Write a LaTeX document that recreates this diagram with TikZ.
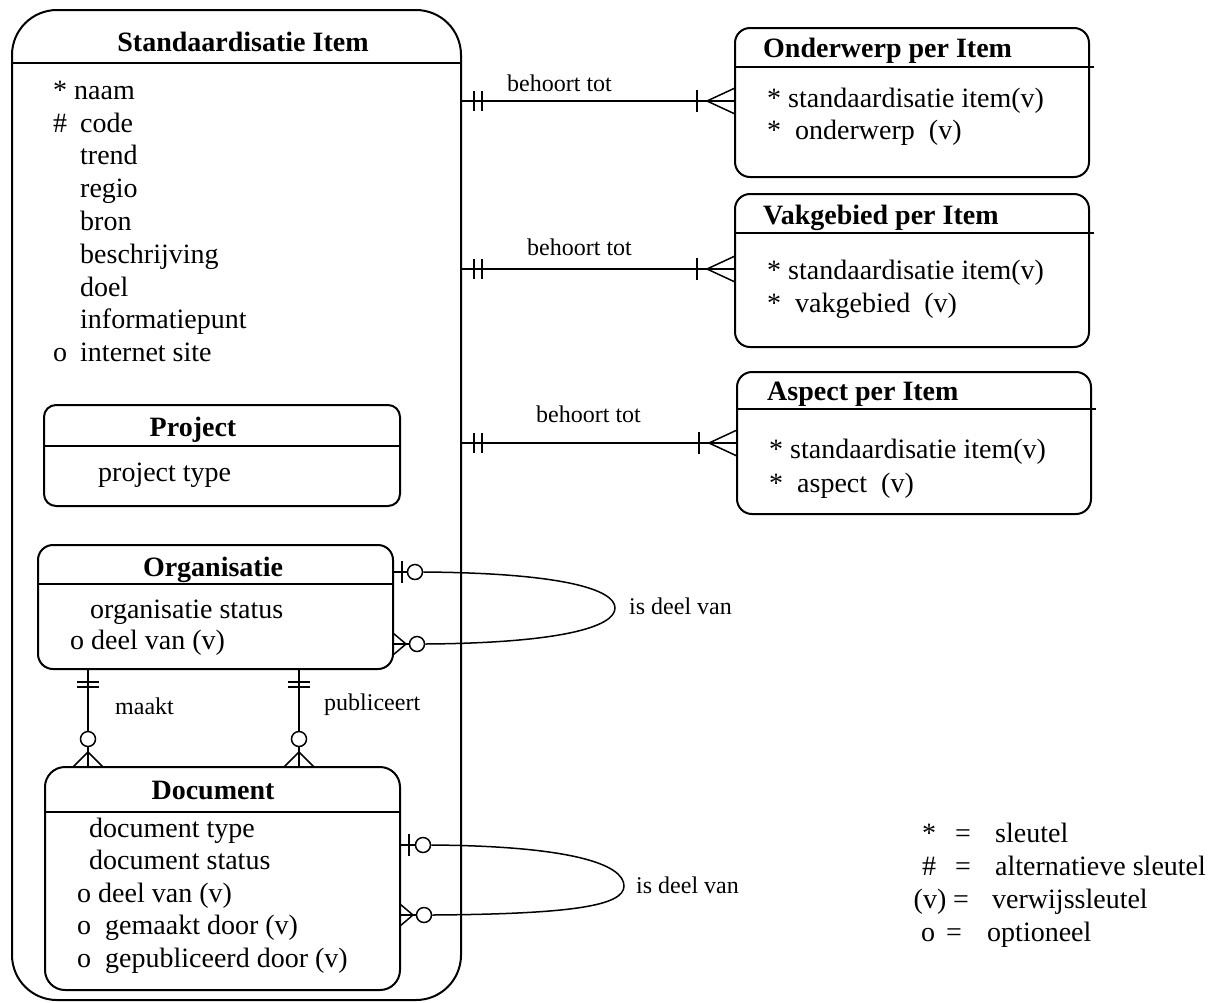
\documentclass[tikz,border=0pt]{standalone}
\usepackage{fontspec}
\setmainfont{Liberation Serif}
\usetikzlibrary{calc}

\begin{document}
\begin{tikzpicture}[x=1pt,y=-1pt,
  entity/.style={draw, line width=2pt, inner sep=0pt, outer sep=0pt},
  head/.style={line width=2pt},
  title/.style={font=\fontsize{28}{32}\selectfont\bfseries, inner sep=0pt,
    text height=19.6pt, text depth=7pt},
  attr/.style={font=\fontsize{28}{32}\selectfont, anchor=west, inner sep=0pt,
    text height=19.6pt, text depth=7pt},
  lbl/.style={font=\fontsize{24}{28}\selectfont, anchor=west, inner sep=0pt,
    text height=16.8pt, text depth=6pt},
  rel/.style={line width=1.5pt},
  ring/.style={circle, draw, line width=1.5pt, fill=white, minimum size=15pt, inner sep=0pt}]
  \useasboundingbox (0,0) rectangle (1214,1002);

  % The big entity, its subtypes sit inside it
  \node[entity, rounded corners=45pt, minimum width=449pt, minimum height=990pt] (item) at (236.5,505) {};
  \draw[head] (item.west |- 0,63) -- (item.east |- 0,63);
  \node[title] (t-item) at (243,45) {Standaardisatie Item};
  \node[attr] (naam) at (53,93) {* naam};
  \foreach \k/\s/\t in {1/\#/code, 2//trend, 3//regio, 4//bron, 5//beschrijving,
                        6//doel, 7//informatiepunt, 8/o/{internet site}}{
    \node[attr] (s\k) at (53,{93+32.8*\k}) {\s};
    \node[attr] (n\k) at (80,{93+32.8*\k}) {\t};
  }

  % Project
  \node[entity, rounded corners=12pt, minimum width=356pt, minimum height=101pt] (project) at (222,455.5) {};
  \draw[head] (project.west |- 0,446) -- (project.east |- 0,446);
  \node[title] (t-project) at (193,430) {Project};
  \node[attr] (a-project) at (98,475) {project type};

  % Organisatie
  \node[entity, rounded corners=15pt, minimum width=355pt, minimum height=124pt] (org) at (215.5,607) {};
  \draw[head] (org.west |- 0,584) -- (org.east |- 0,584);
  \node[title] (t-org) at (213,570) {Organisatie};
  \node[attr] (a-org1) at (90,612) {organisatie status};
  \node[attr] (a-org2) at (70,643) {o deel van (v)};

  % Document
  \node[entity, rounded corners=20pt, minimum width=355pt, minimum height=223pt] (doc) at (222.5,878.5) {};
  \draw[head] (doc.west |- 0,812) -- (doc.east |- 0,812);
  \node[title] (t-doc) at (213,793) {Document};
  \node[attr] (a-doc1) at (89,831) {document type};
  \node[attr] (a-doc2) at (89,863.5) {document status};
  \node[attr] (a-doc3) at (77,896) {o deel van (v)};
  \node[attr] (a-doc4) at (77,928.5) {o\ \ gemaakt door (v)};
  \node[attr] (a-doc5) at (77,961) {o\ \ gepubliceerd door (v)};

  % The three link entities on the right
  \node[entity, rounded corners=15pt, minimum width=354pt, minimum height=149pt] (onderwerp) at (912,102.5) {};
  \draw[head] (onderwerp.west |- 0,67) -- (onderwerp.east |- 0,67) -- ++(5,0);
  \node[title, anchor=west] (t-onderwerp) at (763,51) {Onderwerp per Item};
  \node[attr] (a-onderwerp1) at (767,101) {* standaardisatie item(v)};
  \node[attr] (a-onderwerp2) at (767,133) {*\ \ onderwerp\ \ (v)};

  \node[entity, rounded corners=15pt, minimum width=354pt, minimum height=153pt] (vakgebied) at (912,270.5) {};
  \draw[head] (vakgebied.west |- 0,233) -- (vakgebied.east |- 0,233) -- ++(5,0);
  \node[title, anchor=west] (t-vakgebied) at (763,218) {Vakgebied per Item};
  \node[attr] (a-vakgebied1) at (767,273) {* standaardisatie item(v)};
  \node[attr] (a-vakgebied2) at (767,306) {*\ \ vakgebied\ \ (v)};

  \node[entity, rounded corners=15pt, minimum width=354pt, minimum height=142pt] (aspect) at (914,443) {};
  \draw[head] (aspect.west |- 0,409) -- (aspect.east |- 0,409) -- ++(5,0);
  \node[title, anchor=west] (t-aspect) at (767,394) {Aspect per Item};
  \node[attr] (a-aspect1) at (769,452) {* standaardisatie item(v)};
  \node[attr] (a-aspect2) at (769,486) {*\ \ aspect\ \ (v)};

  % behoort tot: one item, one or more links
  \foreach \n/\y/\lx/\ly in {onderwerp/101/507/86, vakgebied/269/527/250, aspect/443/536/417}{
    \coordinate (\n-a) at (item.east |- 0,\y);
    \coordinate (\n-b) at (\n.west |- 0,\y);
    \draw[rel] (\n-a) -- (\n-b);
    \draw[rel] ($(\n-a)+(13,-10)$) -- ++(0,20) ($(\n-a)+(21,-10)$) -- ++(0,20);
    \draw[rel] ($(\n-b)+(-38,-11)$) -- ++(0,22);
    \draw[rel] ($(\n-b)+(0,-13)$) -- ($(\n-b)+(-28,0)$) -- ($(\n-b)+(0,13)$);
    \node[lbl] (l-\n) at (\lx,\ly) {behoort tot};
  }

  % maakt and publiceert
  \foreach \x/\t/\lx/\ly in {88/maakt/115/709, 299/publiceert/324/705}{
    \coordinate (o\x) at (org.south -| \x,0);
    \coordinate (d\x) at (doc.north -| \x,0);
    \node[ring] (r\x) at ($(d\x)+(0,-28)$) {};
    \draw[rel] (o\x) -- (r\x.north) (r\x.south) -- (d\x);
    \draw[rel] ($(o\x)+(-11,13)$) -- ++(22,0) ($(o\x)+(-11,18)$) -- ++(22,0);
    \draw[rel] ($(d\x)+(-15,0)$) -- ($(d\x)+(0,-15)$) -- ($(d\x)+(15,0)$);
    \node[lbl] (l\x) at (\lx,\ly) {\t};
  }

  % Organisatie is deel van Organisatie
  \coordinate (org-a) at (org.east |- 0,572);
  \coordinate (org-b) at (org.east |- 0,644);
  \node[ring] (org-ra) at ($(org-a)+(22,0)$) {};
  \node[ring] (org-rb) at ($(org-b)+(24,0)$) {};
  \draw[rel] (org-a) -- (org-ra.west) (org-b) -- (org-rb.west);
  \draw[rel] ($(org-a)+(9,-11)$) -- ++(0,22);
  \draw[rel] ($(org-b)+(0,-11)$) -- ($(org-b)+(13,0)$) -- ($(org-b)+(0,11)$);
  \draw[rel] (org-ra.east) .. controls (560,573) and (615,589) .. (615,608)
    .. controls (615,627) and (560,643) .. (org-rb.east);
  \node[lbl] (l-org) at (629,609) {is deel van};

  % Document is deel van Document
  \coordinate (doc-a) at (doc.east |- 0,845);
  \coordinate (doc-b) at (doc.east |- 0,915);
  \node[ring] (doc-ra) at ($(doc-a)+(23,0)$) {};
  \node[ring] (doc-rb) at ($(doc-b)+(24,0)$) {};
  \draw[rel] (doc-a) -- (doc-ra.west) (doc-b) -- (doc-rb.west);
  \draw[rel] ($(doc-a)+(9,-11)$) -- ++(0,22);
  \draw[rel] ($(doc-b)+(0,-11)$) -- ($(doc-b)+(13,0)$) -- ($(doc-b)+(0,11)$);
  \draw[rel] (doc-ra.east) .. controls (570,846) and (624,864) .. (624,886)
    .. controls (624,906) and (570,914) .. (doc-rb.east);
  \node[lbl] (l-doc) at (636,888) {is deel van};

  % Legend
  \foreach \k/\s/\sx/\ex/\t/\tx/\y in {1/*/929/963/sleutel/995/836,
      2/\#/929/963/{alternatieve sleutel}/995/869, 3/{(v)}/930/961/verwijssleutel/992/902,
      4/o/928/954/optioneel/987/935}{
    \node[attr, anchor=center] (ks\k) at (\sx,\y) {\s};
    \node[attr, anchor=center] (ke\k) at (\ex,\y) {=};
    \node[attr] (kt\k) at (\tx,\y) {\t};
  }
\end{tikzpicture}
\end{document}
